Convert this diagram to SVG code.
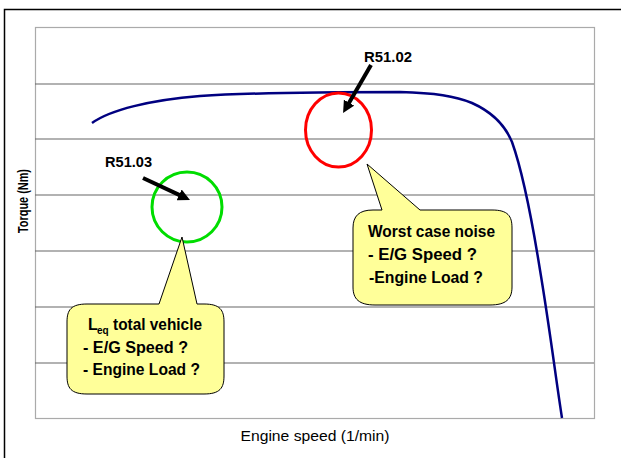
<svg xmlns="http://www.w3.org/2000/svg" width="621" height="458" viewBox="0 0 621 458">
<defs>
<style>
.lbl{font-family:"Liberation Sans",Arial,sans-serif;font-weight:bold;fill:#000}
.reg{font-family:"Liberation Sans",Arial,sans-serif;font-weight:normal;fill:#000}
.call{fill:#ffff99;stroke:#000;stroke-width:1}
.grid{stroke:#666;stroke-width:1.2}
.arrow{stroke:#000;stroke-width:4;fill:none}
</style>
<marker id="ah" viewBox="0 0 10 10" refX="1" refY="5" markerWidth="3" markerHeight="3" orient="auto" markerUnits="strokeWidth">
<path d="M0,0 L10,5 L0,10 Z" fill="#000"/>
</marker>
</defs>
<rect width="621" height="458" fill="#fff"/>
<path d="M4.5,458 L4.5,9.5 L621,9.5" fill="none" stroke="#000" stroke-width="1.5"/>
<g id="chart">
<rect x="35.5" y="27.5" width="559" height="391" fill="#fff" stroke="#aaa" stroke-width="1.2"/>
<line class="grid" x1="35" y1="84" x2="594" y2="84"/>
<line class="grid" x1="35" y1="139" x2="594" y2="139"/>
<line class="grid" x1="35" y1="195" x2="594" y2="195"/>
<line class="grid" x1="35" y1="251" x2="594" y2="251" stroke="#444"/>
<line class="grid" x1="35" y1="307" x2="594" y2="307" stroke="#222"/>
<line class="grid" x1="35" y1="363" x2="594" y2="363" stroke="#222"/>
<path d="M92,123 C110,110 150,100 200,96 C260,92 330,92 400,92 C435,93 455,96 472,103 C492,112 505,125 512,142 C522,170 532,220 540,270 C550,330 556,380 562,418" fill="none" stroke="#000080" stroke-width="2.5"/>
<text class="reg" x="315" y="441" font-size="14" text-anchor="middle" textLength="149" lengthAdjust="spacingAndGlyphs">Engine speed (1/min)</text>
<text class="lbl" transform="translate(28,201) rotate(-90)" font-size="14" text-anchor="middle" textLength="64" lengthAdjust="spacingAndGlyphs">Torque (Nm)</text>
</g>
<g id="r5102">
<ellipse cx="338.5" cy="130" rx="33" ry="37" fill="none" stroke="#ff0000" stroke-width="3"/>
<text class="lbl" x="364" y="62" font-size="14" textLength="48" lengthAdjust="spacingAndGlyphs">R51.02</text>
</g>
<g id="r5103">
<ellipse cx="187" cy="207" rx="35" ry="35" fill="none" stroke="#00dd00" stroke-width="3"/>
<text class="lbl" x="105" y="167" font-size="14" textLength="47" lengthAdjust="spacingAndGlyphs">R51.03</text>
</g>
<g id="callout-worst">
<path class="call" d="M373,210 L382,210 L367,164 L420,210 L492,210 C508,210 512,216 512,228 L512,287 C512,299 506,305 490,305 L375,305 C359,305 353,299 353,287 L353,228 C353,216 359,210 373,210 Z"/>
<text class="lbl" x="368" y="237" font-size="16" textLength="127" lengthAdjust="spacingAndGlyphs">Worst case noise</text>
<text class="lbl" x="368" y="260" font-size="16" textLength="109" lengthAdjust="spacingAndGlyphs">- E/G Speed ?</text>
<text class="lbl" x="369" y="283" font-size="16" textLength="114" lengthAdjust="spacingAndGlyphs">-Engine Load ?</text>
</g>
<g id="callout-leq">
<path class="call" d="M87,304 L159,304 L182,237 L197,304 L204,304 C220,304 224,310 224,322 L224,376 C224,388 220,394 204,394 L87,394 C71,394 67,388 67,376 L67,322 C67,310 71,304 87,304 Z"/>
<text class="lbl" x="88" y="330" font-size="16">L</text>
<text class="lbl" x="97" y="334" font-size="10">eq</text>
<text class="lbl" x="113" y="330" font-size="16" textLength="89" lengthAdjust="spacingAndGlyphs">total vehicle</text>
<text class="lbl" x="83" y="353" font-size="16" textLength="105" lengthAdjust="spacingAndGlyphs">- E/G Speed ?</text>
<text class="lbl" x="83" y="375" font-size="16" textLength="117" lengthAdjust="spacingAndGlyphs">- Engine Load ?</text>
</g>
<g id="connectors">
<line class="arrow" x1="371" y1="65" x2="348.5" y2="103.7" marker-end="url(#ah)"/>
<line class="arrow" x1="143" y1="178" x2="180.2" y2="195.4" marker-end="url(#ah)"/>
</g>
</svg>
